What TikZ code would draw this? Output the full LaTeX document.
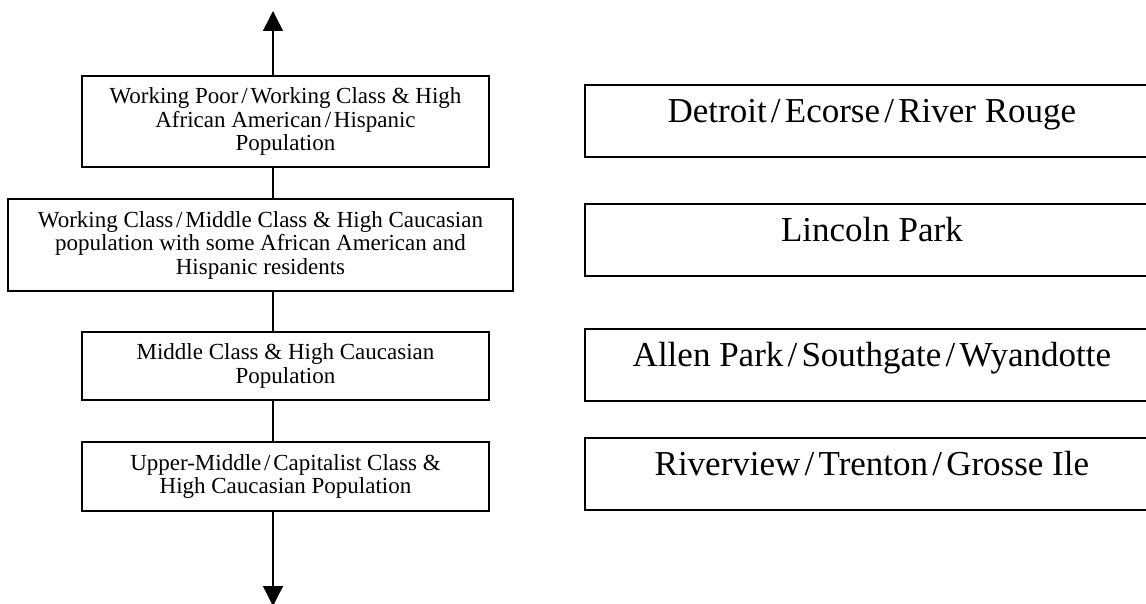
\documentclass[tikz,border=0pt]{standalone}
\usepackage{fontspec}
\setmainfont{Liberation Serif}
\usetikzlibrary{arrows.meta}
\newcommand{\myslash}{\kern0.12em/\kern0.12em}
\begin{document}
\begin{tikzpicture}[x=1pt,y=-1pt,
  lbox/.style={draw,line width=1.3pt,inner sep=0pt,align=center,font=\fontsize{23}{23.5}\selectfont},
  rbox/.style={draw,line width=1.8pt,inner sep=0pt,align=center,font=\fontsize{35}{38}\selectfont,anchor=north west,minimum width=574pt,text height=38pt,text depth=34pt},
  axisline/.style={line width=1.4pt},
  tipped/.style={-{Triangle[length=20pt,width=20pt]}}]
\useasboundingbox (0,0) rectangle (1146,604);
\clip (0,0) rectangle (1146,604);
\node[lbox,minimum width=407pt,minimum height=91pt] (b1) at (285.5,121.5) {Working Poor\myslash Working Class \& High\\African American\myslash Hispanic\\Population};
\node[lbox,minimum width=505pt,minimum height=92pt] (b2) at (260.5,245) {Working Class\myslash Middle Class \& High Caucasian\\population with some African American and\\Hispanic residents};
\node[lbox,minimum width=407pt,minimum height=68pt] (b3) at (285.5,366) {Middle Class \& High Caucasian\\Population};
\node[lbox,minimum width=407pt,minimum height=69pt] (b4) at (285.5,476.5) {Upper-Middle\myslash Capitalist Class \&\\High Caucasian Population};
\node[rbox] (r1) at (584,84) {Detroit\myslash Ecorse\myslash River Rouge};
\node[rbox] (r2) at (584,203) {Lincoln Park};
\node[rbox] (r3) at (584,328) {Allen Park\myslash Southgate\myslash Wyandotte};
\node[rbox] (r4) at (584,437) {Riverview\myslash Trenton\myslash Grosse Ile};
\coordinate (atop) at (273,11);
\coordinate (abot) at (273,606);
\draw[axisline,tipped] (b1.north -| atop) -- (atop);
\draw[axisline] (b1.south -| atop) -- (b2.north -| atop);
\draw[axisline] (b2.south -| atop) -- (b3.north -| atop);
\draw[axisline] (b3.south -| atop) -- (b4.north -| atop);
\draw[axisline,tipped] (b4.south -| atop) -- (abot);
\end{tikzpicture}
\end{document}
